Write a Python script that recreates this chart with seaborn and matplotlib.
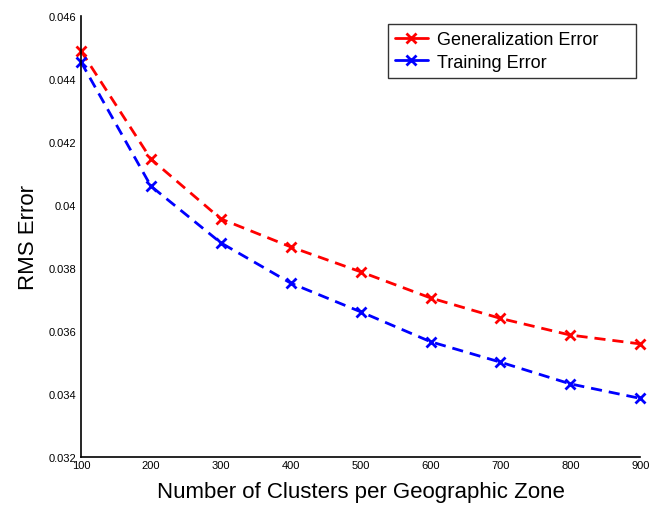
import matplotlib
matplotlib.use("Agg")
import matplotlib.pyplot as plt
import seaborn as sns
import pandas as pd

clusters = [100, 200, 300, 400, 500, 600, 700, 800, 900]
gen_error = [0.04489, 0.04146, 0.03956, 0.03867, 0.03788, 0.03705, 0.03640, 0.03587, 0.03559]
train_error = [0.04454, 0.04060, 0.03880, 0.03752, 0.03661, 0.03566, 0.03501, 0.03432, 0.03386]
series_names = ["Generalization Error", "Training Error"]
y_ticks = [0.032, 0.034, 0.036, 0.038, 0.040, 0.042, 0.044, 0.046]
y_tick_labels = ["0.032", "0.034", "0.036", "0.038", "0.04", "0.042", "0.044", "0.046"]

df = pd.DataFrame({
    "Clusters": clusters * 2,
    "Error": gen_error + train_error,
    "Series": [series_names[0]] * len(clusters) + [series_names[1]] * len(clusters),
})

sns.set_style("white")
plt.rcParams['font.family'] = ['Liberation Sans', 'DejaVu Sans']
plt.rcParams['text.color'] = 'black'
plt.rcParams['axes.labelcolor'] = 'black'

fig = plt.figure(figsize=(6.5, 5.06), dpi=100)
ax = fig.add_axes([0.1246, 0.0949, 0.8604, 0.8715])

colors = {series_names[0]: "#ff0000", series_names[1]: "#0000ff"}
sns.lineplot(data=df, x="Clusters", y="Error", hue="Series",
             palette=colors, marker="x", markersize=7, linewidth=2,
             ax=ax, legend=True)
for line in ax.lines:
    line.set_linestyle((0, (4, 2.5)))
    line.set_markeredgecolor(line.get_color())
    line.set_markeredgewidth(2)
    line.set_markersize(7)
    line.set_clip_on(False)

ax.set_xlim(100, 900)
ax.set_ylim(0.032, 0.046)
ax.set_xticks(clusters)
ax.set_xticklabels([str(c) for c in clusters])
ax.set_yticks(y_ticks)
ax.set_yticklabels(y_tick_labels)
ax.tick_params(direction="in", length=5, width=1, labelsize=8, colors="black")
ax.tick_params(axis="x", pad=2)
for s in ["top", "right"]:
    ax.spines[s].set_visible(False)
for s in ["left", "bottom"]:
    ax.spines[s].set_color("black")
    ax.spines[s].set_linewidth(1.2)

ax.set_xlabel("Number of Clusters per Geographic Zone", fontsize=16, labelpad=8, color="black")
ax.set_ylabel("RMS Error", fontsize=16, labelpad=7, color="black")

handles, labels = ax.get_legend_handles_labels()
for h in handles:
    h.set_linestyle("-")
    h.set_marker("x")
    h.set_markeredgecolor(h.get_color())
    h.set_markeredgewidth(2)
    h.set_markersize(7)
leg = ax.legend(handles, labels, loc="upper left",
                bbox_to_anchor=(0.549, 0.857, 0.4437, 0.125), mode="expand",
                borderaxespad=0,
                fontsize=13, frameon=True, fancybox=False, handlelength=1.8,
                borderpad=0.4, labelspacing=0.3, handletextpad=0.5)
leg.get_frame().set_edgecolor("black")
leg.get_frame().set_linewidth(1.0)
for t in leg.get_texts():
    t.set_color("black")

fig.savefig("out.png", dpi=100)
